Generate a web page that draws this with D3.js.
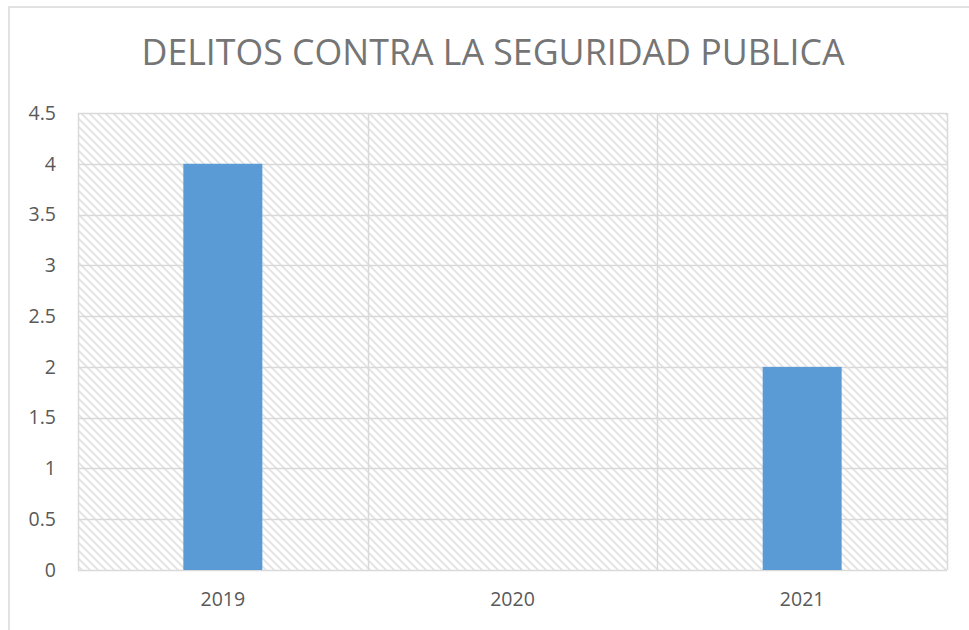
<!DOCTYPE html>
<html>
<head>
<meta charset="utf-8">
<script src="https://cdn.jsdelivr.net/npm/d3@7"></script>
<style>
  body { margin: 0; background: #fff; }
  text { font-family: "Open Sans", "Liberation Sans", sans-serif; }
</style>
</head>
<body>
<div id="my-chart"></div>
<script>
// data
const years = ["2019", "2020", "2021"];
const delitos = [4, 0, 2];
const yTicks = [0, 0.5, 1, 1.5, 2, 2.5, 3, 3.5, 4, 4.5];
const title = "DELITOS CONTRA LA SEGURIDAD PUBLICA";

const width = 969, height = 630;
const marginTop = 113, marginRight = 22, marginBottom = 60, marginLeft = 78;

const svg = d3.select("#my-chart").append("svg")
    .attr("width", width)
    .attr("height", height);

// hatch pattern for plot background
const pat = svg.append("defs").append("pattern")
    .attr("id", "hatch")
    .attr("patternUnits", "userSpaceOnUse")
    .attr("width", 8)
    .attr("height", 8);
pat.append("rect").attr("width", 8).attr("height", 8).attr("fill", "#fff");
pat.append("path")
    .attr("d", "M-2,-2 L10,10 M-2,6 L2,10 M6,-2 L10,2")
    .attr("stroke", "#e2e2e2")
    .attr("stroke-width", 1.8);

// outer chart border
svg.append("rect")
    .attr("x", 9).attr("y", 7)
    .attr("width", width + 10).attr("height", height + 10)
    .attr("fill", "none")
    .attr("stroke", "#d9d9d9")
    .attr("stroke-width", 1.5);

const x = d3.scaleBand()
    .domain(years)
    .range([marginLeft, width - marginRight])
    .paddingInner(0)
    .paddingOuter(0);

const y = d3.scaleLinear()
    .domain([0, 4.5])
    .range([height - marginBottom, marginTop]);

svg.append("rect")
    .attr("x", marginLeft)
    .attr("y", marginTop)
    .attr("width", width - marginLeft - marginRight)
    .attr("height", height - marginTop - marginBottom)
    .attr("fill", "url(#hatch)");

// horizontal grid
svg.append("g")
  .selectAll("line")
  .data(yTicks)
  .join("line")
    .attr("x1", marginLeft)
    .attr("x2", width - marginRight)
    .attr("y1", d => Math.round(y(d)) + 0.5)
    .attr("y2", d => Math.round(y(d)) + 0.5)
    .attr("stroke", "#d9d9d9")
    .attr("stroke-width", 1.5);

// vertical grid at category boundaries
const bounds = years.map(d => x(d)).concat([x.range()[1]]);
svg.append("g")
  .selectAll("line")
  .data(bounds)
  .join("line")
    .attr("x1", d => Math.round(d) + 0.5)
    .attr("x2", d => Math.round(d) + 0.5)
    .attr("y1", marginTop)
    .attr("y2", height - marginBottom)
    .attr("stroke", "#d9d9d9")
    .attr("stroke-width", 1.5);

// bars
const barW = 79;
svg.append("g")
  .selectAll("rect")
  .data(years.map((d, i) => ({ year: d, value: delitos[i] })).filter(d => d.value > 0))
  .join("rect")
    .attr("x", d => x(d.year) + x.bandwidth() / 2 - barW / 2)
    .attr("y", d => y(d.value))
    .attr("width", barW)
    .attr("height", d => y(0) - y(d.value))
    .attr("fill", "#5b9bd5");

// y axis labels
const yAxis = d3.axisLeft(y).tickValues(yTicks).tickSize(0).tickPadding(22).tickFormat(d3.format(""));
svg.append("g")
    .attr("transform", `translate(${marginLeft},0)`)
    .call(yAxis)
    .call(g => g.select(".domain").remove())
    .call(g => g.selectAll("text")
        .attr("fill", "#595959")
        .style("font-size", "19.5px"));

// x axis labels
const xAxis = d3.axisBottom(x).tickSize(0).tickPadding(22);
svg.append("g")
    .attr("transform", `translate(0,${height - marginBottom})`)
    .call(xAxis)
    .call(g => g.select(".domain").remove())
    .call(g => g.selectAll("text")
        .attr("fill", "#595959")
        .style("font-size", "19.5px"));

// title
svg.append("text")
    .attr("x", 493)
    .attr("y", 65)
    .attr("text-anchor", "middle")
    .attr("fill", "#757575")
    .attr("textLength", 703)
    .attr("lengthAdjust", "spacingAndGlyphs")
    .style("font-size", "37px")
    .text(title);
</script>
</body>
</html>
